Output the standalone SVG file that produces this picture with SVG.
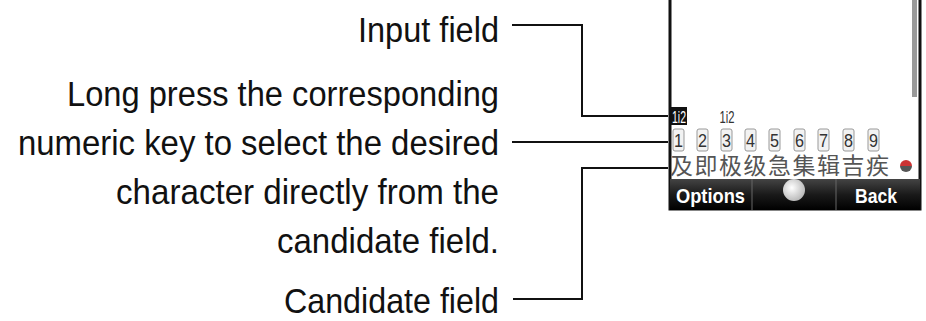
<svg xmlns="http://www.w3.org/2000/svg" width="926" height="321" viewBox="0 0 926 321">
<defs>
<style>
.lbl{font-family:"Liberation Sans",sans-serif;font-size:35px;fill:#111;text-anchor:end}
.con{fill:none;stroke:#111;stroke-width:2}
.key{fill:#f2f2f2;stroke:#999;stroke-width:1}
.dig{font-family:"Liberation Sans",sans-serif;font-size:19px;fill:#333;text-anchor:middle}
.cjk{font-family:"Noto Sans CJK SC",sans-serif;font-size:23px;fill:#555}
.soft{font-family:"Liberation Sans",sans-serif;font-size:21px;fill:#fff;font-weight:bold}
</style>
<linearGradient id="bar" x1="0" y1="0" x2="0" y2="1">
<stop offset="0" stop-color="#444"/><stop offset="0.5" stop-color="#1a1a1a"/><stop offset="1" stop-color="#000"/>
</linearGradient>
<radialGradient id="ball" cx="0.4" cy="0.4" r="0.6">
<stop offset="0" stop-color="#fff"/><stop offset="1" stop-color="#bbb"/>
</radialGradient>
</defs>
<g id="labels">
<text class="lbl" x="499" y="42" textLength="141" lengthAdjust="spacingAndGlyphs">Input field</text>
<text class="lbl" x="499" y="106" textLength="432" lengthAdjust="spacingAndGlyphs">Long press the corresponding</text>
<text class="lbl" x="499" y="155" textLength="481" lengthAdjust="spacingAndGlyphs">numeric key to select the desired</text>
<text class="lbl" x="499" y="204" textLength="383" lengthAdjust="spacingAndGlyphs">character directly from the</text>
<text class="lbl" x="499" y="253" textLength="222" lengthAdjust="spacingAndGlyphs">candidate field.</text>
<text class="lbl" x="499" y="313" textLength="215" lengthAdjust="spacingAndGlyphs">Candidate field</text>
</g>
<g id="screen">
<rect x="670" y="-5" width="250" height="214" fill="#fff" stroke="#111" stroke-width="3"/>
<rect x="912" y="0" width="5" height="97" fill="#999"/>
<rect x="671" y="107" width="16" height="18" fill="#111"/>
<text x="679" y="123" font-family="Liberation Sans,sans-serif" font-size="17" fill="#fff" text-anchor="middle" textLength="14" lengthAdjust="spacingAndGlyphs">1i2</text>
<text x="727" y="123" font-family="Liberation Sans,sans-serif" font-size="17" fill="#333" text-anchor="middle" textLength="15" lengthAdjust="spacingAndGlyphs">1i2</text>
<g id="keys">
<rect class="key" x="673" y="129" width="11" height="22" rx="2"/><text class="dig" x="678.5" y="147" textLength="9" lengthAdjust="spacingAndGlyphs">1</text>
<rect class="key" x="697" y="129" width="11" height="22" rx="2"/><text class="dig" x="702.5" y="147" textLength="9" lengthAdjust="spacingAndGlyphs">2</text>
<rect class="key" x="721" y="129" width="11" height="22" rx="2"/><text class="dig" x="726.5" y="147" textLength="9" lengthAdjust="spacingAndGlyphs">3</text>
<rect class="key" x="745" y="129" width="11" height="22" rx="2"/><text class="dig" x="750.5" y="147" textLength="9" lengthAdjust="spacingAndGlyphs">4</text>
<rect class="key" x="769" y="129" width="11" height="22" rx="2"/><text class="dig" x="774.5" y="147" textLength="9" lengthAdjust="spacingAndGlyphs">5</text>
<rect class="key" x="794" y="129" width="11" height="22" rx="2"/><text class="dig" x="799.5" y="147" textLength="9" lengthAdjust="spacingAndGlyphs">6</text>
<rect class="key" x="818" y="129" width="11" height="22" rx="2"/><text class="dig" x="823.5" y="147" textLength="9" lengthAdjust="spacingAndGlyphs">7</text>
<rect class="key" x="843" y="129" width="11" height="22" rx="2"/><text class="dig" x="848.5" y="147" textLength="9" lengthAdjust="spacingAndGlyphs">8</text>
<rect class="key" x="868" y="129" width="11" height="22" rx="2"/><text class="dig" x="873.5" y="147" textLength="9" lengthAdjust="spacingAndGlyphs">9</text>
</g>
<text class="cjk" x="670" y="174" letter-spacing="1.5">及即极级急集辑吉疾</text>
<path d="M900 166 a6 6 0 0 1 12 0 z" fill="#c33"/>
<path d="M900 166 a6 6 0 0 0 12 0 z" fill="#555"/>
<rect x="670" y="179" width="250" height="31" fill="url(#bar)"/>
<line x1="752" y1="179" x2="752" y2="210" stroke="#666" stroke-width="1"/>
<line x1="836" y1="179" x2="836" y2="210" stroke="#666" stroke-width="1"/>
<text class="soft" x="676" y="203" textLength="69" lengthAdjust="spacingAndGlyphs">Options</text>
<circle cx="794" cy="190" r="11" fill="url(#ball)"/>
<text class="soft" x="855" y="203" textLength="42" lengthAdjust="spacingAndGlyphs">Back</text>
</g>
<g id="connectors">
<polyline class="con" points="512,25 582,25 582,116 668,116"/>
<line class="con" x1="512" y1="142" x2="668" y2="142"/>
<polyline class="con" points="513,299 582,299 582,168 668,168"/>
</g>
</svg>
